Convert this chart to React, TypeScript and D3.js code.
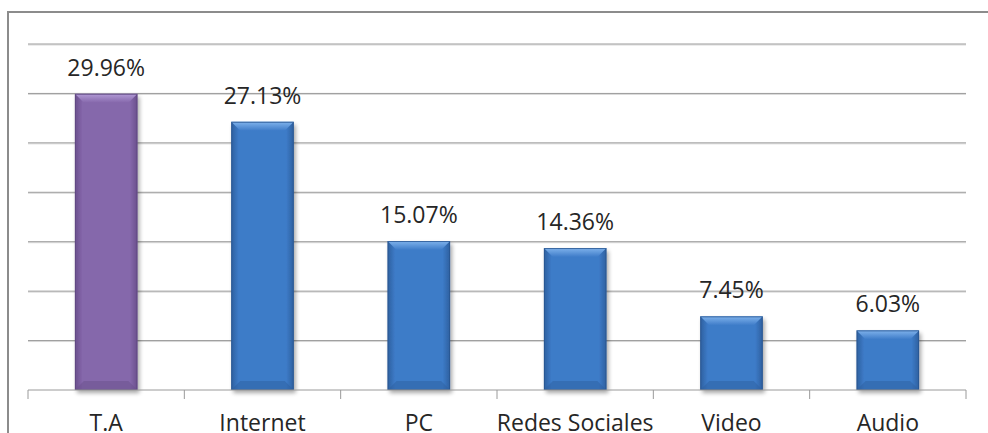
import React from "react";
import * as d3 from "d3";

const categories = ["T.A", "Internet", "PC", "Redes Sociales", "Video", "Audio"];
const values = [29.96, 27.13, 15.07, 14.36, 7.45, 6.03];
const labels = ["29.96%", "27.13%", "15.07%", "14.36%", "7.45%", "6.03%"];
const yTicks = [0, 5, 10, 15, 20, 25, 30, 35];

const W = 988;
const H = 433;
const plotLeft = 28;
const plotRight = 966;
const plotTop = 44;
const plotBottom = 390;

const palettes = [
  { main: "#8567ab", light: "#b29bd6", dark: "#6a4f8c", edge: "#5e4680" },
  { main: "#3d7bc8", light: "#80b3ec", dark: "#2e609f", edge: "#285590" },
];

export default function App() {
  const x = d3.scaleBand<string>().domain(categories).range([plotLeft, plotRight]).paddingInner(0.6).paddingOuter(0.3);
  const xb = d3.scaleBand<string>().domain(categories).range([plotLeft, plotRight]);
  const y = d3.scaleLinear().domain([0, 35]).range([plotBottom, plotTop]);
  const font = "'Open Sans', 'Liberation Sans', sans-serif";
  const boundaries = categories.map((c) => xb(c)!).concat([plotRight]);

  return (
    <svg width={W} height={H} style={{ position: "absolute", left: 0, top: 0, background: "#fff" }}>
      <defs>
        <filter id="sh" x="-20%" y="-20%" width="150%" height="150%">
          <feGaussianBlur in="SourceAlpha" stdDeviation="2" />
          <feOffset dx="2" dy="3" result="b" />
          <feComponentTransfer>
            <feFuncA type="linear" slope="0.35" />
          </feComponentTransfer>
          <feMerge>
            <feMergeNode />
            <feMergeNode in="SourceGraphic" />
          </feMerge>
        </filter>
        {palettes.map((p, i) => (
          <g key={i}>
            <linearGradient id={`top${i}`} x1="0" y1="0" x2="0" y2="1">
              <stop offset="0" stopColor={p.light} />
              <stop offset="1" stopColor={p.main} />
            </linearGradient>
            <linearGradient id={`body${i}`} x1="0" y1="0" x2="1" y2="0">
              <stop offset="0" stopColor={p.dark} />
              <stop offset="0.12" stopColor={p.main} />
              <stop offset="0.88" stopColor={p.main} />
              <stop offset="1" stopColor={p.dark} />
            </linearGradient>
          </g>
        ))}
      </defs>
      <rect x={8} y={12} width={1000} height={450} fill="#fff" stroke="#8c8c8c" strokeWidth={2} />
      {yTicks.filter((t) => t > 0).map((t) => (
        <g key={t}>
          <line x1={plotLeft} x2={plotRight} y1={y(t) + 1} y2={y(t) + 1} stroke="#d9d9d9" strokeWidth={1} />
          <line x1={plotLeft} x2={plotRight} y1={y(t)} y2={y(t)} stroke="#9a9a9a" strokeWidth={1} />
        </g>
      ))}
      {categories.map((c, i) => {
        const p = palettes[i === 0 ? 0 : 1];
        const pi = i === 0 ? 0 : 1;
        const bx = x(c)!;
        const bw = x.bandwidth();
        const by = y(values[i]);
        const bh = plotBottom - by;
        const b = 9;
        return (
          <g key={c}>
            <g filter="url(#sh)">
              <rect x={bx} y={by} width={bw} height={bh} fill={`url(#body${pi})`} />
            </g>
            <polygon points={`${bx},${by} ${bx + bw},${by} ${bx + bw - b},${by + b} ${bx + b},${by + b}`} fill={`url(#top${pi})`} />
            <polygon points={`${bx},${by + bh} ${bx + bw},${by + bh} ${bx + bw - b},${by + bh - b} ${bx + b},${by + bh - b}`} fill={p.dark} opacity={0.5} />
            <rect x={bx + 0.5} y={by + 0.5} width={bw - 1} height={bh - 1} fill="none" stroke={p.edge} strokeWidth={1} opacity={0.8} />
            <text x={bx + bw / 2} y={by - 18} textAnchor="middle" fontFamily={font} fontSize={23} fill="#262626">
              {labels[i]}
            </text>
            <text x={xb(c)! + xb.bandwidth() / 2} y={431} textAnchor="middle" fontFamily={font} fontSize={23} fill="#262626">
              {c}
            </text>
          </g>
        );
      })}
      <line x1={plotLeft} x2={plotRight} y1={plotBottom} y2={plotBottom} stroke="#9a9a9a" strokeWidth={1} />
      {boundaries.map((bx, i) => (
        <line key={i} x1={bx} x2={bx} y1={plotBottom} y2={plotBottom + 9} stroke="#9a9a9a" strokeWidth={1} />
      ))}
    </svg>
  );
}
